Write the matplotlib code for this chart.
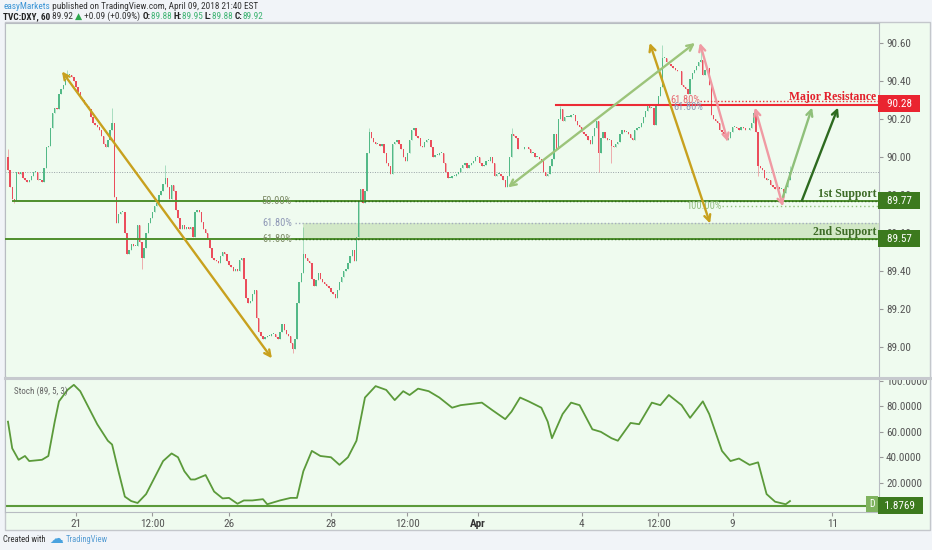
import matplotlib
matplotlib.use('Agg')
import matplotlib.pyplot as plt
from matplotlib.patches import Rectangle
from matplotlib.lines import Line2D
from matplotlib import font_manager
import numpy as np

# DXY 60 min closes, 19 Mar 16:00 -> 9 Apr 21:00
closes = [
    89.93, 89.84, 89.78, 89.77, 89.92, 89.91, 89.92, 89.89, 89.88, 89.87,
    89.88, 89.90, 89.92, 89.92, 89.88, 89.88, 89.87, 89.94, 90.05, 90.06,
    90.15, 90.23, 90.26, 90.25, 90.33, 90.36, 90.38, 90.41, 90.43, 90.43,
    90.42, 90.40, 90.37, 90.34, 90.31, 90.30, 90.28, 90.27, 90.25, 90.21,
    90.18, 90.17, 90.16, 90.14, 90.11, 90.07, 90.05, 90.09, 90.14, 90.18,
    89.79, 89.65, 89.70, 89.71, 89.71, 89.60, 89.49, 89.51, 89.54, 89.53,
    89.53, 89.64, 89.55, 89.47, 89.52, 89.60, 89.65, 89.68, 89.71, 89.74,
    89.76, 89.80, 89.82, 89.86, 89.89, 89.84, 89.78, 89.85, 89.82, 89.72,
    89.68, 89.62, 89.64, 89.62, 89.63, 89.62, 89.63, 89.58, 89.71, 89.72,
    89.71, 89.66, 89.62, 89.60, 89.57, 89.52, 89.47, 89.46, 89.45, 89.44,
    89.48, 89.50, 89.49, 89.45, 89.43, 89.42, 89.40, 89.41, 89.40, 89.46,
    89.47, 89.36, 89.26, 89.23, 89.24, 89.28, 89.30, 89.15, 89.08, 89.06,
    89.04, 89.05, 89.06, 89.06, 89.07, 89.07, 89.05, 89.04, 89.08, 89.12,
    89.09, 89.07, 89.06, 89.02, 88.99, 89.04, 89.23, 89.34, 89.39, 89.49,
    89.47, 89.45, 89.44, 89.36, 89.32, 89.35, 89.39, 89.36, 89.34, 89.33,
    89.32, 89.31, 89.29, 89.28, 89.26, 89.30, 89.34, 89.37, 89.40, 89.41,
    89.44, 89.48, 89.51, 89.45, 89.58, 89.77, 89.83, 89.76, 89.82, 90.02,
    90.13, 90.10, 90.08, 90.07, 90.07, 90.06, 90.07, 90.02, 89.97, 89.95,
    89.91, 90.07, 90.08, 90.09, 90.07, 90.04, 90.00, 89.98, 90.02, 90.09,
    90.14, 90.15, 90.11, 90.10, 90.06, 90.05, 90.08, 90.09, 90.09, 90.05,
    90.00, 90.01, 90.01, 90.02, 90.02, 89.97, 89.92, 89.89, 89.89, 89.90,
    89.90, 89.91, 89.92, 89.94, 89.96, 89.97, 89.94, 89.96, 89.97, 89.98,
    90.00, 90.00, 89.97, 89.95, 89.96, 89.98, 89.98, 90.00, 89.97, 89.90,
    89.91, 89.91, 89.90, 89.88, 89.84, 89.90, 90.00, 90.12, 90.11, 90.10,
    90.04, 90.04, 90.04, 90.05, 90.05, 90.04, 90.02, 90.02, 90.00, 90.00,
    89.99, 89.98, 89.92, 89.90, 89.91, 89.95, 89.99, 90.12, 90.04, 90.20,
    90.25, 90.19, 90.21, 90.21, 90.21, 90.22, 90.22, 90.19, 90.17, 90.16,
    90.13, 90.12, 90.11, 90.09, 90.07, 90.11, 90.15, 90.19, 90.02, 90.10,
    90.13, 90.10, 90.09, 90.09, 90.06, 90.05, 90.07, 90.08, 90.12, 90.14,
    90.13, 90.13, 90.12, 90.10, 90.09, 90.14, 90.15, 90.16, 90.18, 90.21,
    90.24, 90.27, 90.26, 90.26, 90.17, 90.28, 90.32, 90.37, 90.52, 90.52,
    90.50, 90.49, 90.48, 90.47, 90.46, 90.45, 90.45, 90.38, 90.37, 90.36,
    90.33, 90.41, 90.44, 90.46, 90.48, 90.50, 90.51, 90.43, 90.46, 90.47,
    90.38, 90.22, 90.20, 90.19, 90.18, 90.14, 90.13, 90.12, 90.09, 90.10,
    90.13, 90.16, 90.16, 90.15, 90.14, 90.16, 90.15, 90.14, 90.14, 90.15,
    90.18, 90.23, 90.13, 89.95, 89.94, 89.93, 89.89, 89.88, 89.88, 89.85,
    89.84, 89.83, 89.84, 89.83, 89.83, 89.81, 89.84, 89.88, 89.92,
]
first_open = 90.00
# visible wick extremes (bar index -> price)
wick_hi = {0: 90.04, 28: 90.46, 49: 90.26, 74: 89.96, 139: 89.63, 170: 90.15,
           237: 90.15, 260: 90.27, 308: 90.59, 326: 90.58, 368: 89.95}
wick_lo = {3: 89.76, 63: 89.41, 134: 88.97, 165: 89.70, 278: 89.92,
           284: 89.97, 353: 89.90, 365: 89.79}

# Stoch (89, 5, 3) readings (bar index, value)
stoch_bars = [0, 2, 5, 8, 10, 16, 19, 22, 24, 28, 31, 34, 38, 42, 47, 49, 52, 55,
              58, 61, 65, 69, 73, 77, 80, 83, 86, 88, 93, 97, 101, 104, 108, 111,
              115, 120, 122, 128, 133, 136, 139, 143, 147, 152, 156, 160, 164, 168,
              173, 178, 182, 186, 189, 193, 198, 203, 209, 213, 223, 228, 234, 237,
              241, 245, 251, 254, 256, 261, 265, 269, 275, 279, 284, 287, 293, 297,
              303, 307, 311, 317, 321, 327, 330, 336, 340, 344, 349, 353, 357, 361,
              366, 368]
stoch_vals = [68, 47, 38, 41, 37, 38, 41, 68, 84, 93, 97, 92, 79, 66, 53, 50, 29, 9,
              5.5, 4, 11, 24, 37, 43, 40, 29, 22.5, 22.5, 26, 13, 7.6, 8, 3.4, 6,
              6, 7, 3, 6, 8, 8, 29, 45, 41, 40, 34, 40, 53, 87,
              96, 93, 85, 92, 89, 94, 92, 87, 79, 81, 83, 77, 70, 76,
              87, 84, 79, 68, 55, 74, 83, 81, 62, 60, 55, 53, 67, 66,
              83, 81, 89, 81, 71, 84, 74, 45, 37, 39, 34, 36, 11, 5,
              3, 5.5]
stoch_last = 1.8769

tick_bars = [32, 68, 104, 152, 188, 221, 270, 306, 341, 388]
tick_labels = ['21', '12:00', '26', '28', '12:00', 'Apr', '4', '12:00', '9', '11']
price_ticks = [89.00, 89.20, 89.40, 89.60, 89.80, 90.00, 90.20, 90.40, 90.60]
stoch_ticks = [20, 40, 60, 80, 100]

support1 = 89.77
support2 = 89.57
zone_top = 89.65
fib100 = 89.74
resistance = 90.28
fib618_hi = 90.295
last_price = 89.92

# drawn arrows: (bar, price) -> (bar, price)
gold_arrows = [((25.4, 90.45), (124.2, 88.94)), ((302, 90.60), (330.4, 89.65))]
light_arrow = ((235.3, 89.84), (323.3, 90.60))
pink_arrows = [((325.6, 90.60), (338.8, 90.08)), ((351.5, 90.26), (364.7, 89.74))]
target_light = ((364.7, 89.79), (378.4, 90.26))
target_dark = ((373.6, 89.77), (390.6, 90.26))

# ------------------------------------------------------------------
names = {f.name for f in font_manager.fontManager.ttflist}
narrow = [n for n in ('Liberation Sans Narrow', 'Roboto Condensed', 'DejaVu Sans Condensed',
                      'Noto Sans Condensed') if n in names]
sans = narrow[0] if narrow else 'Liberation Sans'
head_size = 6.7 if narrow else 6.0
serif = 'Liberation Serif'

W, H = 932, 550
fig = plt.figure(figsize=(W / 100, H / 100), dpi=100)
fig.patch.set_facecolor('#f1f4f8')

def fx(px):
    return px / W

def fy(py):
    return 1 - py / H

bg = '#effbef'
grey = '#b8bcc2'
fig.add_artist(Rectangle((fx(5), fy(530)), fx(930) - fx(5), fy(22) - fy(530),
                         transform=fig.transFigure, fc=bg, ec='#c4c7cc', lw=1, zorder=0))

XMIN, XMAX = -1.4, 409.9
ax = fig.add_axes([fx(5), fy(376), fx(879) - fx(5), fy(23) - fy(376)])
ax2 = fig.add_axes([fx(5), fy(512), fx(879) - fx(5), fy(379) - fy(512)])
for a in (ax, ax2):
    a.set_facecolor(bg)
    a.set_xlim(XMIN, XMAX)
    for s in a.spines.values():
        s.set_color(grey)
        s.set_linewidth(0.8)
ax.set_ylim(88.847, 90.705)
ax2.set_ylim(-3.1, 101.6)
ax.spines['bottom'].set_visible(False)
ax2.spines['top'].set_visible(False)

# separator between panels
fig.add_artist(Line2D([fx(5), fx(930)], [fy(377.5), fy(377.5)], transform=fig.transFigure,
                      color='#c6c9ce', lw=2.2))

# candles
idx = np.arange(len(closes))
c = np.array(closes)
o = np.array([first_open] + closes[:-1])
up = c >= o
cols = np.where(up, '#53b987', '#eb4d5c')
hi = np.maximum(o, c)
lo = np.minimum(o, c)
for k, v in wick_hi.items():
    hi[k] = max(hi[k], v)
for k, v in wick_lo.items():
    lo[k] = min(lo[k], v)
ax.vlines(idx, lo, hi, colors=cols, lw=0.7, alpha=0.45, zorder=3)
ax.bar(idx, np.maximum(np.abs(c - o), 0.004), bottom=np.minimum(o, c), width=0.62,
       color=cols, linewidth=0, zorder=4)

# last price line
ax.axhline(last_price, color='#9aa3a8', lw=0.7, ls=(0, (1, 1.5)), zorder=2)

# support / resistance / fib levels
green = '#4e8f2c'
ax.add_patch(Rectangle((138.8, support2), XMAX - 138.8, zone_top - support2,
                       fc='#cfe6c3', ec='none', alpha=0.9, zorder=1))
ax.plot([135, XMAX], [zone_top, zone_top], color='#a4adbf', lw=1, ls=(0, (1, 1.5)), zorder=2)
ax.plot([2.3, XMAX], [support1, support1], color=green, lw=1.4, zorder=5)
ax.plot([XMIN, XMAX], [support2, support2], color=green, lw=1.4, zorder=5)
ax.plot([135, XMAX], [support1, support1], color='#2f6a1a', lw=1, ls=(0, (1, 1.5)), zorder=5)
ax.plot([135, XMAX], [support2, support2], color='#2f6a1a', lw=1, ls=(0, (1, 1.5)), zorder=5)
ax.plot([336, XMAX], [fib100, fib100], color='#92c27c', lw=1, ls=(0, (1, 2)), zorder=2)
ax.plot([257.9, XMAX], [resistance - 0.006, resistance - 0.006], color='#ec2b35', lw=1.5, zorder=5)
ax.plot([325.6, XMAX], [fib618_hi, fib618_hi], color='#ec2b35', lw=1, ls=(0, (1, 1.5)), zorder=5)

fib_kw = dict(fontsize=7.5, family=sans, ha='right', va='center', zorder=6)
ax.text(133.6, support1, '50.00%', color='#7d8b66', **fib_kw)
ax.text(133.6, zone_top, '61.80%', color='#8e98b6', **fib_kw)
ax.text(133.6, support2, '61.80%', color='#7d8b66', **fib_kw)
ax.text(336, fib100, '100.00%', color='#93bf7f', **fib_kw)
ax.text(325.6, fib618_hi + 0.004, '61.80%', color='#e86a72', **fib_kw)
ax.text(327.0, resistance - 0.016, '61.80%', color='#8e98b6', **fib_kw)

lab_kw = dict(family=serif, fontweight='bold', ha='right', va='bottom', zorder=7)
ax.text(408.5, resistance + 0.004, 'Major Resistance', color='#e3202b', fontsize=8.5, **lab_kw)
ax.text(408.5, support1 + 0.005, '1st Support', color='#3d6b26', fontsize=8.5, **lab_kw)
ax.text(408.5, support2 + 0.005, '2nd Support', color='#3d6b26', fontsize=8.5, **lab_kw)

# arrows
def arrow(p, q, color, style='<->'):
    ax.annotate('', xy=q, xytext=p, zorder=8,
                arrowprops=dict(arrowstyle=style, color=color, lw=1.7, shrinkA=0, shrinkB=0,
                                mutation_scale=11))

for p, q in gold_arrows:
    arrow(p, q, '#c8a11e')
arrow(*light_arrow, '#9cc47a')
for p, q in pink_arrows:
    arrow(p, q, '#f09aa3')
arrow(*target_light, '#8fc07a', '->')
arrow(*target_dark, '#2d6a1f', '->')

# price scale
ax.set_xticks([])
ax.yaxis.tick_right()
ax.set_yticks(price_ticks, [f'{v:.2f}' for v in price_ticks])
ax.tick_params(axis='y', length=3, color='#999', labelsize=8, labelcolor='#555', pad=2)
for t in ax.get_yticklabels():
    t.set_family(sans)

box_kw = dict(transform=ax.get_yaxis_transform(), ha='left', va='center', color='white',
              fontsize=8, family=sans, zorder=10, clip_on=False)
bpad = 'square,pad=0.3'
ax.text(1.003, resistance, '  90.28  ', bbox=dict(boxstyle=bpad, fc='#ea2430', ec='none'), **box_kw)
ax.text(1.003, support1, '  89.77  ', bbox=dict(boxstyle=bpad, fc='#3c7a1e', ec='none'), **box_kw)
ax.text(1.003, support2, '  89.57  ', bbox=dict(boxstyle=bpad, fc='#3c7a1e', ec='none'), **box_kw)

# stochastic panel
ax2.plot(stoch_bars, stoch_vals, color='#5b9a3a', lw=1.3, zorder=3, solid_joinstyle='round')
ax2.axhline(stoch_last, color='#5b9a3a', lw=1.5, zorder=2)
ax2.text(3, 96, 'Stoch (89, 5, 3)', fontsize=6.5, color='#666', family=sans, va='top')
ax2.yaxis.tick_right()
ax2.set_yticks(stoch_ticks, [f'{v:.4f}' for v in stoch_ticks])
ax2.tick_params(axis='y', length=3, color='#999', labelsize=8, labelcolor='#555', pad=2)
for t in ax2.get_yticklabels():
    t.set_family(sans)
ax2.text(1.003, stoch_last, ' 1.8769  ', transform=ax2.get_yaxis_transform(), ha='left',
         va='center', color='white', fontsize=8, family=sans, zorder=10, clip_on=False,
         bbox=dict(boxstyle=bpad, fc='#3c7a1e', ec='none'))
ax2.text(406.5, stoch_last + 1.5, 'D', ha='center', va='center', color='white', fontsize=7,
         family=sans, zorder=10, bbox=dict(boxstyle='square,pad=0.3', fc='#7fb35e', ec='none'))

ax2.set_xticks(tick_bars, tick_labels)
ax2.tick_params(axis='x', length=3, color='#999', labelsize=8, labelcolor='#555', pad=2)
for t in ax2.get_xticklabels():
    t.set_family(sans)
    if t.get_text() == 'Apr':
        t.set_fontweight('bold')
        t.set_color('#333')

# header
renderer = fig.canvas.get_renderer()

def chain(x, y, parts, size=head_size, fam=None):
    for s, col, wt in parts:
        t = fig.text(x, y, s, color=col, fontweight=wt, fontsize=size,
                     family=fam or [sans, 'DejaVu Sans'], va='center')
        bb = t.get_window_extent(renderer=renderer)
        x = bb.x1 / fig.bbox.width
    return x

chain(fx(3), fy(6.5), [('easyMarkets', '#3b95d6', 'normal'),
                        (' published on TradingView.com, April 09, 2018 21:40 EST', '#333', 'normal')])
gc = '#3cb371'
chain(fx(3), fy(16.5), [('TVC:DXY, 60', '#222', 'bold'), (' 89.92 ', '#333', 'normal'),
                         ('\u25b2', '#2fa84f', 'normal'), (' +0.09 (+0.09%) ', '#333', 'normal'),
                         ('O:', '#222', 'bold'), ('89.88 ', gc, 'normal'),
                         ('H:', '#222', 'bold'), ('89.95 ', gc, 'normal'),
                         ('L:', '#222', 'bold'), ('89.88 ', gc, 'normal'),
                         ('C:', '#222', 'bold'), ('89.92', gc, 'normal')])

# footer
x = chain(fx(3), fy(540), [('Created with  ', '#333', 'normal')], size=6.2)
x = chain(x, fy(539), [('\u2601', '#4aa3df', 'normal')], size=10, fam=['DejaVu Sans'])
chain(x + fx(2), fy(540), [('TradingView', '#5a9fd4', 'normal')], size=6.2)

fig.savefig('out.png', dpi=100, facecolor=fig.get_facecolor())
